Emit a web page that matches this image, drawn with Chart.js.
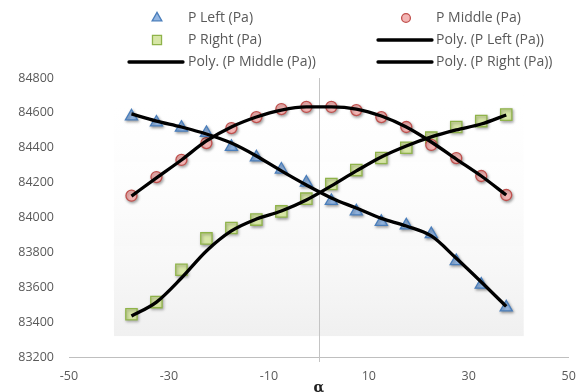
<!DOCTYPE html>
<html>
<head>
<meta charset="utf-8">
<script src="https://cdn.jsdelivr.net/npm/chart.js@4.4.1/dist/chart.umd.min.js"></script>
<style>
  html, body { margin: 0; padding: 0; background: #ffffff; }
  #wrap { width: 578px; height: 392px; }
</style>
</head>
<body>
<div id="wrap"><canvas id="chart" width="578" height="392"></canvas></div>
<script>
// Angle of attack (deg) for each pressure reading
const alpha = [-37.5, -32.5, -27.5, -22.5, -17.5, -12.5, -7.5, -2.5, 2.5, 7.5, 12.5, 17.5, 22.5, 27.5, 32.5, 37.5];

// Measured pressures (Pa)
const pLeft   = [84580, 84545, 84515, 84485, 84405, 84345, 84275, 84200, 84095, 84035, 83975, 83955, 83905, 83750, 83615, 83485];
const pMiddle = [84125, 84232, 84330, 84427, 84513, 84576, 84622, 84634, 84634, 84616, 84576, 84519, 84416, 84341, 84238, 84129];
const pRight  = [83445, 83515, 83700, 83880, 83940, 83988, 84035, 84108, 84192, 84272, 84341, 84400, 84458, 84519, 84553, 84590];

// Polynomial trendline values at the same angles
const polyLeft   = [84594, 84553, 84519, 84479, 84427, 84353, 84267, 84186, 84112, 84054, 83995, 83951, 83894, 83766, 83630, 83490];
const polyMiddle = [84123, 84227, 84330, 84439, 84519, 84576, 84616, 84634, 84634, 84622, 84582, 84519, 84433, 84335, 84238, 84129];
const polyRight  = [83435, 83515, 83653, 83808, 83923, 83991, 84037, 84100, 84181, 84267, 84347, 84410, 84462, 84502, 84536, 84588];

// Axis tick labels
const xTicks = [-50, -30, -10, 10, 30, 50];
const yTicks = [83200, 83400, 83600, 83800, 84000, 84200, 84400, 84600, 84800];

const seriesNames = ['P Left (Pa)', 'P Middle (Pa)', 'P Right (Pa)',
  'Poly. (P Left (Pa))', 'Poly. (P Middle (Pa))', 'Poly. (P Right (Pa))'];

const toPoints = ys => alpha.map((a, i) => ({ x: a, y: ys[i] }));

const markerSet = (label, ys, style, radius, fill, stroke) => ({
  label, data: toPoints(ys), showLine: false, order: 1,
  pointStyle: style, pointRadius: radius, pointHoverRadius: radius,
  pointBackgroundColor: fill, pointBorderColor: stroke, pointBorderWidth: 1.3
});

const trendSet = (label, ys) => ({
  label, data: toPoints(ys), showLine: true, order: 0,
  borderColor: '#000000', borderWidth: 3.3, pointRadius: 0,
  cubicInterpolationMode: 'monotone', fill: false
});

const datasets = [
  markerSet(seriesNames[0], pLeft, 'triangle', 7, '#93b6e2', '#4a7ebb'),
  markerSet(seriesNames[1], pMiddle, 'circle', 5.5, '#f3b5b4', '#c0504d'),
  markerSet(seriesNames[2], pRight, 'rect', 8, '#d7e6a6', '#8fb34a'),
  trendSet(seriesNames[3], polyLeft),
  trendSet(seriesNames[4], polyMiddle),
  trendSet(seriesNames[5], polyRight)
];

// Light shaded panel behind the measurements, in data units
const panel = { xMin: -41, xMax: 41, yMin: 83320 };

const backdrop = {
  id: 'backdrop',
  beforeDatasetsDraw(chart) {
    const { ctx, chartArea, scales: { x, y } } = chart;
    const left = x.getPixelForValue(panel.xMin);
    const right = x.getPixelForValue(panel.xMax);
    const bottom = y.getPixelForValue(panel.yMin);
    const top = chartArea.top;
    ctx.save();
    const g = ctx.createLinearGradient(0, top, 0, bottom);
    g.addColorStop(0, 'rgba(255,255,255,0)');
    g.addColorStop(1, 'rgba(240,240,240,1)');
    ctx.fillStyle = g;
    ctx.fillRect(left, top, right - left, bottom - top);
    // vertical axis line through alpha = 0
    const zx = Math.round(x.getPixelForValue(0)) + 0.5;
    ctx.strokeStyle = '#c4c4c4';
    ctx.lineWidth = 1;
    ctx.beginPath();
    ctx.moveTo(zx, chartArea.top);
    ctx.lineTo(zx, chartArea.bottom + 5);
    ctx.stroke();
    ctx.restore();
  }
};

// Soft drop shadow under the measurement markers
const markerShadow = {
  id: 'markerShadow',
  beforeDatasetDraw(chart, args) {
    if (chart.data.datasets[args.index].showLine) return;
    const ctx = chart.ctx;
    ctx.save();
    ctx.shadowColor = 'rgba(0,0,0,0.35)';
    ctx.shadowBlur = 3;
    ctx.shadowOffsetX = 1;
    ctx.shadowOffsetY = 1.5;
  },
  afterDatasetDraw(chart, args) {
    if (chart.data.datasets[args.index].showLine) return;
    chart.ctx.restore();
  }
};

// Two-column legend above the plot
const gridLegend = {
  id: 'gridLegend',
  afterDraw(chart) {
    const ctx = chart.ctx;
    const cols = [{ mark: 157, l0: 129, l1: 183, text: 188 }, { mark: 406, l0: 378, l1: 432, text: 436 }];
    const rows = [18, 40, 62];
    const slots = [[0, 0], [1, 0], [0, 1], [1, 1], [0, 2], [1, 2]];
    ctx.save();
    ctx.font = '14px "Open Sans", sans-serif';
    ctx.textBaseline = 'middle';
    ctx.textAlign = 'left';
    chart.data.datasets.forEach((ds, i) => {
      const [c, r] = slots[i];
      const col = cols[c];
      const y = rows[r];
      if (ds.showLine) {
        ctx.strokeStyle = ds.borderColor;
        ctx.lineWidth = 3.3;
        ctx.lineCap = 'round';
        ctx.beginPath();
        ctx.moveTo(col.l0, y);
        ctx.lineTo(col.l1, y);
        ctx.stroke();
      } else {
        ctx.fillStyle = ds.pointBackgroundColor;
        ctx.strokeStyle = ds.pointBorderColor;
        ctx.lineWidth = ds.pointBorderWidth;
        Chart.helpers.drawPoint(ctx, {
          pointStyle: ds.pointStyle, radius: ds.pointRadius * 0.8, rotation: 0, borderWidth: ds.pointBorderWidth
        }, col.mark, y);
      }
      ctx.fillStyle = '#595959';
      ctx.fillText(ds.label, col.text, y);
    });
    ctx.restore();
  }
};

const tickFont = { family: '"Open Sans", sans-serif', size: 12.5 };
// invisible tick marks only set the gap between axis and labels
const hiddenTicks = len => ({ display: true, drawOnChartArea: false, drawTicks: true, tickLength: len, color: 'rgba(0,0,0,0)' });

new Chart(document.getElementById('chart'), {
  type: 'scatter',
  data: { datasets },
  plugins: [backdrop, markerShadow, gridLegend],
  options: {
    responsive: false,
    devicePixelRatio: 1,
    animation: false,
    layout: { padding: { top: 78, left: 0, right: 6, bottom: 0 } },
    plugins: { legend: { display: false }, tooltip: { enabled: false } },
    scales: {
      x: {
        type: 'linear', min: -50, max: 50,
        afterBuildTicks: s => { s.ticks = xTicks.map(v => ({ value: v })); },
        afterFit: s => { s.height = 35; },
        grid: hiddenTicks(10),
        border: { display: true, color: '#bfbfbf', width: 1 },
        ticks: { color: '#595959', font: tickFont, padding: 2, maxRotation: 0, callback: v => String(v) },
        title: { display: true, text: 'α', color: '#222222', font: { family: '"DejaVu Serif", serif', size: 14, weight: 'bold' }, padding: { top: -5, bottom: -5 } }
      },
      y: {
        type: 'linear', min: 83200, max: 84800,
        afterBuildTicks: s => { s.ticks = yTicks.map(v => ({ value: v })); },
        afterFit: s => { s.width = 69; },
        grid: hiddenTicks(12),
        border: { display: false },
        ticks: { color: '#595959', font: tickFont, padding: 3, callback: v => String(v) }
      }
    }
  }
});
</script>
</body>
</html>
